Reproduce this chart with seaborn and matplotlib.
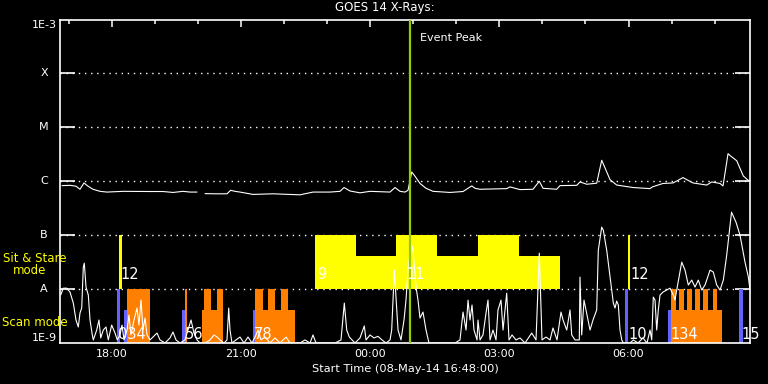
import matplotlib
matplotlib.use("Agg")
import matplotlib.pyplot as plt
import seaborn as sns
import numpy as np
import pandas as pd
from matplotlib.ticker import FixedLocator, NullLocator

# ---------------- data ----------------
# time in decimal hours (>=24 means next day), start 08-May-14 16:48
long_time_a = [16.846, 17.032, 17.171, 17.264, 17.357, 17.450, 17.566, 17.729, 17.891, 18.263,
               18.890, 19.191, 19.424, 19.656, 19.818, 19.981]
long_flux_a = [8.3e-7, 8.4e-7, 8.1e-7, 7.1e-7, 9.3e-7, 8.1e-7, 7.1e-7, 6.5e-7, 6.3e-7, 6.5e-7,
               6.45e-7, 6.45e-7, 6.2e-7, 6.5e-7, 6.3e-7, 6.3e-7]
long_time_b = [20.167, 20.399, 20.677, 20.763, 20.863, 20.979, 21.281, 21.745, 22.372, 22.674,
               23.069, 23.301, 23.394, 23.533, 23.765, 23.998, 24.462, 24.578, 24.694, 24.810,
               24.880, 24.966, 25.042, 25.159, 25.298, 25.460, 25.855, 26.157, 26.359, 26.436,
               26.552, 27.172, 27.248, 27.480, 27.782, 27.928, 28.014, 28.332, 28.409, 28.797,
               28.873, 29.029, 29.261, 29.377, 29.477, 29.570, 29.726, 30.104, 30.499, 30.552,
               30.800, 31.032, 31.149, 31.265, 31.381, 31.497, 31.815, 31.931, 32.124, 32.194,
               32.310, 32.380, 32.512, 32.665, 32.804]
long_flux_b = [5.9e-7, 5.85e-7, 5.85e-7, 6.8e-7, 6.5e-7, 6.3e-7, 5.7e-7, 5.85e-7, 5.6e-7, 6.3e-7,
               6.3e-7, 6.5e-7, 7.65e-7, 6.6e-7, 6.1e-7, 6.5e-7, 6.3e-7, 7.65e-7, 6.5e-7, 6.3e-7,
               6.8e-7, 1.49e-6, 1.24e-6, 9.1e-7, 7.4e-7, 6.5e-7, 6.2e-7, 6.45e-7, 8.2e-7, 7.4e-7,
               7.1e-7, 7.3e-7, 7.85e-7, 7.0e-7, 7.1e-7, 1.0e-6, 7.4e-7, 7.1e-7, 8.3e-7, 8.4e-7,
               9.7e-7, 8.8e-7, 9.2e-7, 2.45e-6, 1.6e-6, 1.07e-6, 8.5e-7, 7.65e-7, 7.3e-7, 7.85e-7,
               9.1e-7, 9.3e-7, 1.04e-6, 1.17e-6, 1.04e-6, 9.3e-7, 8.5e-7, 9.7e-7, 9.1e-7, 8.2e-7,
               3.25e-6, 2.9e-6, 2.4e-6, 1.25e-6, 1.0e-6]

short_time = [16.816, 16.877, 16.956, 17.032, 17.109, 17.171, 17.225, 17.264, 17.304, 17.341,
              17.364, 17.404, 17.457, 17.497, 17.55, 17.573, 17.652, 17.705, 17.745, 17.805,
              17.868, 17.921, 18.0, 18.077, 18.13, 18.193, 18.24, 18.286, 18.356, 18.402,
              18.448, 18.518, 18.588, 18.634, 18.681, 18.727, 18.774, 18.82, 18.89, 18.959,
              19.052, 19.122, 19.238, 19.354, 19.424, 19.493, 19.586, 19.702, 19.772, 19.842,
              19.911, 19.981, 20.051, 20.167, 20.283, 20.376, 20.445, 20.515, 20.608, 20.677,
              20.717, 20.747, 20.793, 20.886, 20.979, 21.072, 21.165, 21.258, 21.351, 21.397,
              21.467, 21.56, 21.676, 21.792, 21.908, 22.047, 22.14, 22.372, 22.488, 22.605,
              22.674, 22.744, 22.953, 23.185, 23.324, 23.401, 23.457, 23.517, 23.649, 23.765,
              23.865, 23.905, 23.998, 24.09, 24.183, 24.276, 24.369, 24.462, 24.501, 24.562,
              24.618, 24.648, 24.717, 24.787, 24.833, 24.88, 24.95, 24.996, 25.066, 25.112,
              25.158, 25.228, 25.298, 25.367, 25.507, 25.739, 25.971, 26.087, 26.157, 26.227,
              26.273, 26.319, 26.366, 26.412, 26.482, 26.505, 26.552, 26.621, 26.691, 26.737,
              26.784, 26.853, 26.923, 26.969, 27.039, 27.086, 27.171, 27.225, 27.295, 27.387,
              27.48, 27.596, 27.752, 27.852, 27.928, 27.991, 28.084, 28.177, 28.246, 28.339,
              28.432, 28.479, 28.565, 28.641, 28.681, 28.757, 28.857, 28.873, 28.913, 28.966,
              29.036, 29.106, 29.175, 29.261, 29.298, 29.377, 29.414, 29.493, 29.57, 29.647,
              29.686, 29.725, 29.763, 29.802, 29.842, 29.879, 30.034, 30.111, 30.22, 30.336,
              30.429, 30.499, 30.538, 30.575, 30.615, 30.654, 30.691, 30.731, 30.8, 30.886,
              30.963, 31.04, 31.079, 31.118, 31.195, 31.235, 31.311, 31.388, 31.467, 31.543,
              31.62, 31.699, 31.776, 31.892, 31.968, 32.047, 32.124, 32.201, 32.279, 32.391,
              32.495, 32.588, 32.704, 32.782, 32.82]
short_flux = [7.75e-9, 1.04e-8, 1.04e-8, 8.8e-9, 5.5e-9, 2.67e-9, 1.98e-9, 3.6e-9, 4.45e-9, 2.55e-8,
              3.03e-8, 1.09e-8, 7.75e-9, 2.67e-9, 1.41e-9, 1.14e-9, 1.74e-9, 2.67e-9, 1.24e-9, 1.74e-9,
              1.98e-9, 1.14e-9, 2.15e-9, 1.53e-9, 1.14e-9, 1.41e-9, 2.15e-9, 1.14e-9, 1.74e-9, 3.3e-9,
              1.41e-9, 2.67e-9, 4.45e-9, 2.15e-9, 6.25e-9, 1.74e-9, 2.9e-9, 1.41e-9, 1.14e-9, 1.29e-9,
              1.53e-9, 1.14e-9, 1.0e-9, 1.24e-9, 1.6e-9, 1.14e-9, 1.0e-9, 1.14e-9, 1.74e-9, 2.67e-9,
              1.53e-9, 1.14e-9, 1.0e-9, 1.0e-9, 1.14e-9, 1.41e-9, 1.29e-9, 1.14e-9, 1.0e-9, 1.14e-9,
              4.45e-9, 1.74e-9, 1.0e-9, 1.14e-9, 1.29e-9, 1.0e-9, 1.29e-9, 1.0e-9, 1.41e-9, 1.74e-9,
              1.14e-9, 1.29e-9, 1.0e-9, 1.24e-9, 1.0e-9, 1.29e-9, 1.0e-9, 1.0e-9, 1.14e-9, 1.0e-9,
              1.41e-9, 1.0e-9, 1.0e-9, 1.0e-9, 1.14e-9, 5.5e-9, 1.74e-9, 1.29e-9, 1.0e-9, 1.24e-9,
              2.07e-9, 1.14e-9, 1.41e-9, 1.24e-9, 1.33e-9, 1.14e-9, 1.0e-9, 1.14e-9, 1.74e-9, 2.25e-8,
              4.1e-9, 1.74e-9, 1.14e-9, 2.67e-9, 6.25e-9, 2.25e-8, 7.1e-8, 5.27e-8, 1.09e-8, 6.25e-9,
              2.9e-9, 3.75e-9, 1.74e-9, 1.0e-9, 1.0e-9, 1.0e-9, 1.0e-9, 1.14e-9, 3.75e-9, 1.74e-9,
              6.25e-9, 2.67e-9, 5.06e-9, 1.74e-9, 1.14e-9, 2.67e-9, 1.14e-9, 1.41e-9, 3.6e-9, 6.25e-9,
              1.14e-9, 1.74e-9, 1.14e-9, 4.1e-9, 6.25e-9, 1.74e-9, 8.4e-9, 1.14e-9, 1.41e-9, 1.14e-9,
              1.24e-9, 1.0e-9, 1.53e-9, 1.14e-9, 4.64e-8, 1.14e-9, 1.29e-9, 1.14e-9, 1.9e-9, 1.14e-9,
              3.75e-9, 2.67e-9, 1.74e-9, 4.1e-9, 1.41e-9, 1.14e-9, 1.14e-9, 1.67e-8, 1.41e-9, 6.25e-9,
              3.3e-9, 1.74e-9, 2.67e-9, 4.1e-9, 5.27e-8, 1.41e-7, 1.24e-7, 5.27e-8, 1.67e-8, 5.5e-9,
              4.45e-9, 6.0e-9, 5.06e-9, 1.74e-9, 1.14e-9, 1.0e-9, 1.0e-9, 1.14e-9, 1.0e-9, 1.24e-9,
              1.0e-9, 1.74e-9, 1.14e-9, 7.1e-9, 6.25e-9, 1.74e-9, 4.1e-9, 7.75e-9, 8.8e-9, 9.6e-9,
              1.04e-8, 7.75e-9, 6.25e-9, 9.6e-9, 2.07e-8, 3.16e-8, 2.25e-8, 1.19e-8, 1.47e-8, 1.09e-8,
              1.47e-8, 9.6e-9, 1.19e-8, 2.25e-8, 2.07e-8, 1.19e-8, 9.6e-9, 1.47e-8, 4.26e-8, 2.67e-7,
              1.74e-7, 1.0e-7, 3.16e-8, 1.67e-8, 9.6e-9]

# Sit & Stare mode blocks (yellow), drawn from A level upward
stare_start = [18.170, 22.721, 23.674, 24.601, 25.553, 26.505, 27.457, 29.980]
stare_end = [18.246, 23.674, 24.601, 25.553, 26.505, 27.457, 28.409, 30.040]
stare_top = [1e-7, 1e-7, 4.1e-8, 1e-7, 4.1e-8, 1e-7, 4.1e-8, 1e-7]

# Scan mode blocks (orange), drawn from 1E-9 upward
scan_start = [18.349, 19.702, 20.097, 20.143, 20.299, 20.445, 21.327, 21.506, 21.636, 21.792,
              21.931, 22.087, 30.986, 30.986, 31.179, 31.365, 31.551, 31.736, 31.954]
scan_end = [18.890, 19.742, 20.143, 20.299, 20.445, 20.592, 21.506, 21.636, 21.792, 21.931,
            22.087, 22.256, 32.163, 31.102, 31.288, 31.474, 31.660, 31.846, 32.061]
scan_top = [1e-8, 1e-8, 4.1e-9, 1e-8, 4.1e-9, 1e-8, 1e-8, 4.1e-9, 1e-8, 4.1e-9,
            1e-8, 4.1e-9, 4.1e-9, 1e-8, 1e-8, 1e-8, 1e-8, 1e-8, 1e-8]

# blue markers
blue_start = [18.117, 18.286, 19.633, 21.288, 29.918, 30.923, 32.572]
blue_end = [18.193, 18.349, 19.702, 21.327, 29.995, 30.986, 32.651]
blue_top = [1e-8, 4.1e-9, 4.1e-9, 4.1e-9, 1e-8, 4.1e-9, 1e-8]

# observation number labels
obs_text = ["12", "9", "11", "12", "034", "56", "78", "10", "134", "15"]
obs_time = [18.20, 22.767, 24.84, 30.034, 18.147, 19.702, 21.304, 29.988, 30.963, 32.612]
obs_row = ["stare", "stare", "stare", "stare", "scan", "scan", "scan", "scan", "scan", "scan"]

event_peak = 24.93

level_vals = [1e-3, 1e-4, 1e-5, 1e-6, 1e-7, 1e-8, 1e-9]
level_names = ["1E-3", "X", "M", "C", "B", "A", "1E-9"]
grid_levels = [1e-4, 1e-5, 1e-6, 1e-7, 1e-8]

xtick_pos = [18, 21, 24, 27, 30]
xtick_lab = ["18:00", "21:00", "00:00", "03:00", "06:00"]
minor_pos = list(range(17, 33))

# ---------------- figure ----------------
sns.set_style("ticks")
plt.rcParams["font.family"] = ["DejaVu Sans"]

W, H = 768, 384
fig = plt.figure(figsize=(7.68, 3.84), dpi=100, facecolor="black")
ax = fig.add_axes([60 / W, (H - 343) / H, 690 / W, (343 - 19.5) / H])
ax.set_facecolor("black")
ax.set_yscale("log")
ax.set_ylim(1e-9, 1e-3)
ax.set_xlim(16.8, 32.82)

# dotted grid
ax.hlines(grid_levels, 16.8, 32.82, colors="white", linewidth=1.0,
          linestyles=[(0, (1, 3.4))], zorder=0.5)

# bars
ax.bar(stare_start, np.array(stare_top) - 1e-8, width=np.array(stare_end) - np.array(stare_start),
       bottom=1e-8, align="edge", color="#ffff00", linewidth=0, zorder=1)
ax.bar(scan_start, np.array(scan_top) - 1e-9, width=np.array(scan_end) - np.array(scan_start),
       bottom=1e-9, align="edge", color="#ff8000", linewidth=0, zorder=1)
ax.bar(blue_start, np.array(blue_top) - 1e-9, width=np.array(blue_end) - np.array(blue_start),
       bottom=1e-9, align="edge", color="#6262ff", linewidth=0, zorder=1)

# curves
df_long = pd.DataFrame({
    "time": long_time_a + long_time_b,
    "flux": long_flux_a + long_flux_b,
    "seg": [0] * len(long_time_a) + [1] * len(long_time_b),
})
df_short = pd.DataFrame({"time": short_time, "flux": short_flux, "seg": 0})
sns.lineplot(data=df_long, x="time", y="flux", units="seg", estimator=None, sort=False,
             color="white", linewidth=0.8, ax=ax, zorder=2, legend=False)
sns.lineplot(data=df_short, x="time", y="flux", units="seg", estimator=None, sort=False,
             color="white", linewidth=0.8, ax=ax, zorder=2, legend=False)

# event peak
ax.axvline(event_peak, color="#99cc00", linewidth=1.6, zorder=3)
ax.text(event_peak + 0.22, 4.5e-4, "Event Peak", color="white", fontsize=8, va="center", zorder=4)

# observation labels
for t, x, row in zip(obs_text, obs_time, obs_row):
    y = 1.57e-8 if row == "stare" else 1.21e-9
    ax.text(x, y, t, color="white", fontsize=10.5, ha="left", va="baseline", zorder=4)

# spines / ticks
for s in ax.spines.values():
    s.set_color("white")
    s.set_linewidth(1.2)
ax.set_xlabel("")
ax.set_ylabel("")
ax.xaxis.set_major_locator(FixedLocator(xtick_pos))
ax.set_xticklabels(xtick_lab)
ax.xaxis.set_minor_locator(FixedLocator(minor_pos))
ax.tick_params(axis="x", which="major", direction="in", top=True, bottom=False, length=5,
               width=1.1, color="white", labelcolor="white", labelsize=8, pad=4.5)
ax.tick_params(axis="x", which="minor", direction="in", top=True, bottom=False, length=3,
               width=1.1, color="white")
ax.yaxis.set_major_locator(FixedLocator(grid_levels))
ax.yaxis.set_minor_locator(NullLocator())
ax.tick_params(axis="y", which="major", direction="in", left=True, right=True, length=10.5,
               width=1.2, color="white", labelleft=False)

ytr = ax.get_yaxis_transform()
for v, n in zip(level_vals, level_names):
    if n == "1E-3":
        ax.text(-0.0045, v, n, transform=ytr, color="white", fontsize=8, ha="right", va="top")
    elif n == "1E-9":
        ax.text(-0.0045, v, n, transform=ytr, color="white", fontsize=8, ha="right", va="bottom")
    else:
        ax.text(-0.0232, v, n, transform=ytr, color="white", fontsize=8, ha="center", va="center")

# figure-level texts
fig.text(385 / W, 1 - 8 / H, "GOES 14 X-Rays:", color="white", fontsize=8.5, ha="center", va="center")
fig.text(405 / W, 1 - 369 / H, "Start Time (08-May-14 16:48:00)", color="white", fontsize=8.2,
         ha="center", va="center")
fig.text(3 / W, 1 - 258 / H, "Sit & Stare", color="#ffff00", fontsize=8.5, ha="left", va="center")
fig.text(13 / W, 1 - 271 / H, "mode", color="#ffff00", fontsize=8.5, ha="left", va="center")
fig.text(2 / W, 1 - 323 / H, "Scan mode", color="#ffff00", fontsize=8.5, ha="left", va="center")

fig.savefig("out.png", dpi=100, facecolor="black")
